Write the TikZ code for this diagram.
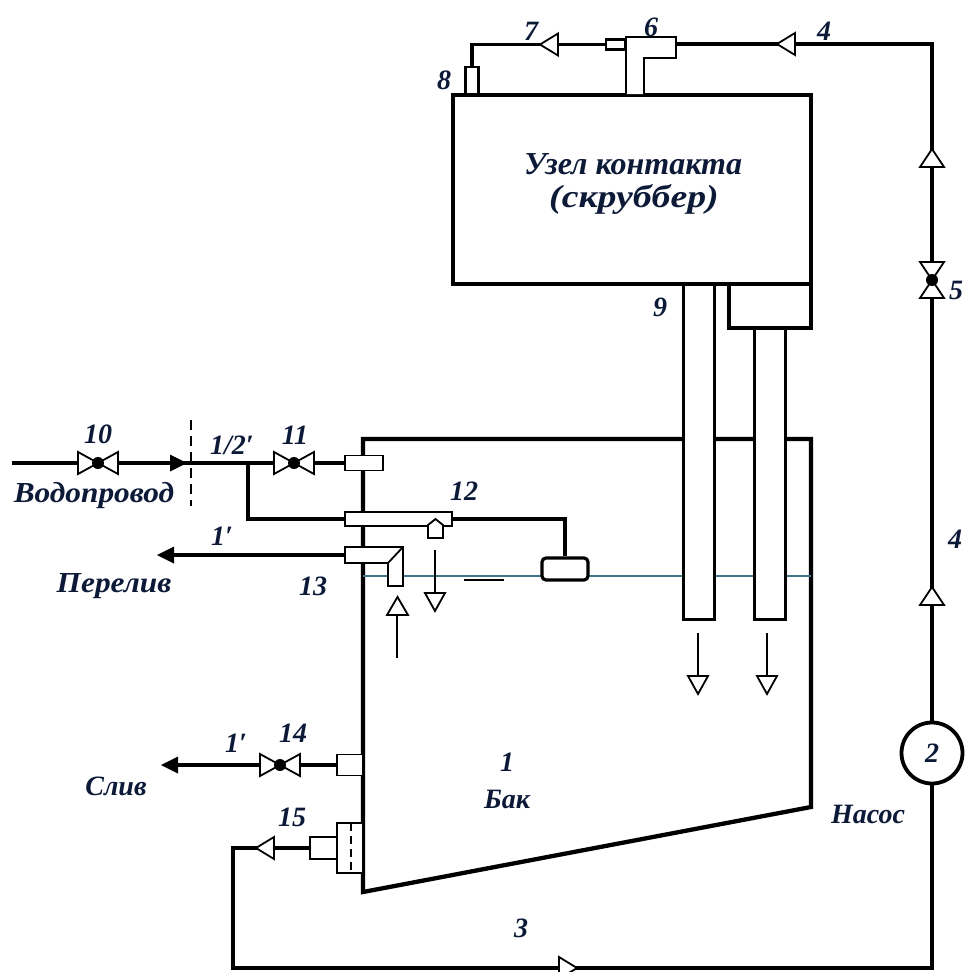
\documentclass[tikz,border=0pt]{standalone}
\usepackage{fontspec}
\setmainfont{Liberation Serif}
\usetikzlibrary{calc}
\definecolor{ink}{RGB}{12,26,56}
\definecolor{water}{RGB}{60,120,135}
\tikzset{
  x=1pt,y=-1pt,
  pipe/.style={draw=black,line width=3.2pt,line join=miter},
  wall/.style={draw=black,line width=4.3pt,line join=miter},
  thinbox/.style={draw=black,fill=white,line width=1.8pt,inner sep=0pt},
  tube/.style={draw=black,fill=white,line width=3pt,inner sep=0pt},
  lbl/.style={font=\bfseries\itshape\fontsize{28}{30}\selectfont,text=ink,inner sep=0pt},
  widelbl/.style={lbl,font=\bfseries\itshape\fontsize{29}{30}\selectfont,transform shape,xscale=1.08},
  biglbl/.style={font=\bfseries\itshape\fontsize{32}{34}\selectfont,text=ink,inner sep=0pt},
  flow/.style={draw=black,line width=1.8pt},
  pics/valve/.style={code={
    \draw[thinbox] (-20,-11) -- (-20,11) -- (20,-11) -- (20,11) -- cycle;
    \fill[black] (0,0) circle (6);
  }},
  pics/vvalve/.style={code={
    \draw[thinbox] (-12,-18) -- (12,-18) -- (-12,18) -- (12,18) -- cycle;
    \fill[black] (0,0) circle (6);
  }},
  pics/check/.style={code={
    \draw[thinbox,line join=miter] (9,-11) -- (9,11) -- (-9,0) -- cycle;
  }},
  pics/vcheck/.style={code={
    \draw[thinbox,line join=miter] (-12,9) -- (12,9) -- (0,-9) -- cycle;
  }},
  pics/head/.style={code={
    \fill[black] (9,-8.5) -- (9,8.5) -- (-8,0) -- cycle;
  }}
}
\begin{document}
\begin{tikzpicture}
\useasboundingbox (0,0) rectangle (965,972);
\fill[white] (0,0) rectangle (965,972);
% named points
\coordinate (v5) at (932,280);
\coordinate (c4a) at (786,44);
\coordinate (c4b) at (932,158);
\coordinate (c4c) at (932,596);
\coordinate (c7) at (549,44.5);
\coordinate (c15) at (265,848);
\coordinate (c3) at (568,968);
\coordinate (v10) at (98,463);
\coordinate (v11) at (294,463);
\coordinate (v14) at (280,765);
\coordinate (in) at (12,463);
\coordinate (head10) at (179,463);
\coordinate (junction) at (248,463);
\coordinate (head1) at (165,555);
\coordinate (head14) at (169,765);
\coordinate (corner1) at (932,44);
\coordinate (corner2) at (472,44.5);
\coordinate (bottomR) at (932,968);
\coordinate (bottomL) at (233,968);
\coordinate (leftTop) at (233,848);
\coordinate (branch) at (248,519);
\coordinate (floatTop) at (565,519);
% tank
\draw[wall] (363,892) -- (363,439) -- (811,439) -- (811,807) -- cycle;
% water level
\coordinate (levelL) at (363,576);
\coordinate (levelR) at (811,576);
\draw[water,line width=1.3pt] (levelL) -- (levelR);
\draw[black,line width=1.2pt] (464,580) -- (504,580);
% scrubber
\node[draw=black,line width=4.3pt,fill=white,minimum width=358pt,minimum height=189pt,inner sep=0pt] (scrub) at (632,189.5) {};
\node[draw=black,line width=4.3pt,fill=white,minimum width=82pt,minimum height=44pt,inner sep=0pt] (neck) at (770,306) {};
% tubes
\node[tube,minimum width=31pt,minimum height=335pt] (t1) at (698.5,451.5) {};
\node[tube,minimum width=31pt,minimum height=291pt] (t2) at (769.5,473.5) {};
\draw[flow] (698,633) -- (698,677);
\draw[flow] (767,633) -- (767,677);
\draw[thinbox] (688,676) -- (708,676) -- (698,694) -- cycle;
\draw[thinbox] (757,676) -- (777,676) -- (767,694) -- cycle;
% pipes at the top
\node[thinbox,line width=2.4pt,minimum width=13pt,minimum height=27pt] (b8) at (472,80.5) {};
\node[thinbox,line width=2.4pt,minimum width=19pt,minimum height=10pt] (b6n) at (615.5,44.5) {};
\draw[pipe] (b6n.west) -- (c7) -- (corner2) -- (b8.north);
\draw[pipe] (676,44) -- (corner1) -- (v5) -- (c4c) -- (932,722);
\draw[line width=2.8pt,fill=white,line join=miter] (626,94) -- (626,37) -- (676,37) -- (676,58) -- (644,58) -- (644,94);
\pic at (c7) {check};
\pic at (c4a) {check};
\pic at (c4b) {vcheck};
\pic at (c4c) {vcheck};
\pic at (v5) {vvalve};
% pump
\node[draw=black,fill=white,line width=3.8pt,circle,minimum size=61pt,inner sep=0pt] (pump) at (932,753) {};
% return line
\node[thinbox,minimum width=26pt,minimum height=50pt] (b15a) at (350,848) {};
\node[thinbox,minimum width=27pt,minimum height=22pt] (b15b) at (323.5,848) {};
\draw[black,line width=2pt,dashed,dash pattern=on 8pt off 5pt] (351,823) -- (351,873);
\draw[pipe] (pump.south) -- (bottomR) -- (bottomL) -- (leftTop) -- (b15b.west);
\pic at (c15) {check};
\pic[rotate=180] at (c3) {check};
% left-hand fittings
\node[thinbox,minimum width=38pt,minimum height=15pt] (b11) at (364,463) {};
\node[thinbox,minimum width=107pt,minimum height=14pt] (b12) at (398.5,519) {};
\node[thinbox,minimum width=26pt,minimum height=21pt] (b14) at (350,765) {};
\draw[pipe] (in) -- (head10) (head10) -- (b11.west);
\draw[pipe] (junction) -- (branch) -- (b12.west);
\draw[pipe] (b14.west) -- (head14);
\draw[thinbox] (345,547) -- (403,547) -- (403,586) -- (388,586) -- (388,563) -- (345,563) -- cycle;
\draw[black,line width=1.8pt] (403,547) -- (388,563);
\coordinate (b13w) at (345,555);
\draw[pipe] (b13w) -- (head1);
\node[draw=black,fill=white,line width=3.2pt,rounded corners=4pt,minimum width=46pt,minimum height=22pt,inner sep=0pt] (float) at (565,569) {};
\draw[pipe] (b12.east) -- (floatTop) -- (float.north);
\draw[thinbox] (428,538) -- (428,525) -- (435.5,519) -- (443,525) -- (443,538) -- cycle;
\draw[flow] (435,550) -- (435,594);
\draw[thinbox] (425,593) -- (445,593) -- (435,611) -- cycle;
\draw[flow] (397,658) -- (397,615);
\draw[thinbox] (387,615) -- (408,615) -- (397.5,597) -- cycle;
\draw[black,line width=2.6pt,dashed,dash pattern=on 10pt off 6pt] (191,420) -- (191,506);
\pic at (v10) {valve};
\pic at (v11) {valve};
\pic at (v14) {valve};
\pic[rotate=180] at (head10) {head};
\pic at (head1) {head};
\pic at (head14) {head};
% labels
\node[biglbl] (t0) at (633,164) {Узел контакта};
\node[biglbl,transform shape,xscale=1.18] (t00) at (634,199) {(скруббер)};
\node[lbl] (l6) at (651,27) {6};
\node[lbl] (l7) at (531,31) {7};
\node[lbl] (l8) at (444,80) {8};
\node[lbl] (l4a) at (824,31) {4};
\node[lbl] (l4b) at (955,539) {4};
\node[lbl] (l5) at (956,290) {5};
\node[lbl] (l9) at (660,307) {9};
\node[lbl] (l10) at (98,434) {10};
\node[lbl] (l12p) at (232,445) {1/2′};
\node[lbl] (l11) at (295,435) {11};
\node[widelbl] (lv) at (94,496) {Водопровод};
\node[lbl] (l1a) at (222,536) {1′};
\node[widelbl] (lper) at (114,586) {Перелив};
\node[lbl] (l13) at (313,586) {13};
\node[lbl] (l12) at (464,491) {12};
\node[lbl] (l1b) at (236,743) {1′};
\node[lbl] (l14) at (293,733) {14};
\node[lbl] (lsl) at (116,786) {Слив};
\node[lbl] (l15) at (292,817) {15};
\node[lbl] (l1) at (507,762) {1};
\node[lbl] (lbak) at (507,799) {Бак};
\node[lbl] (l2) at (932,753) {2};
\node[lbl] (lnas) at (868,814) {Насос};
\node[lbl] (l3) at (521,928) {3};
\end{tikzpicture}
\end{document}
